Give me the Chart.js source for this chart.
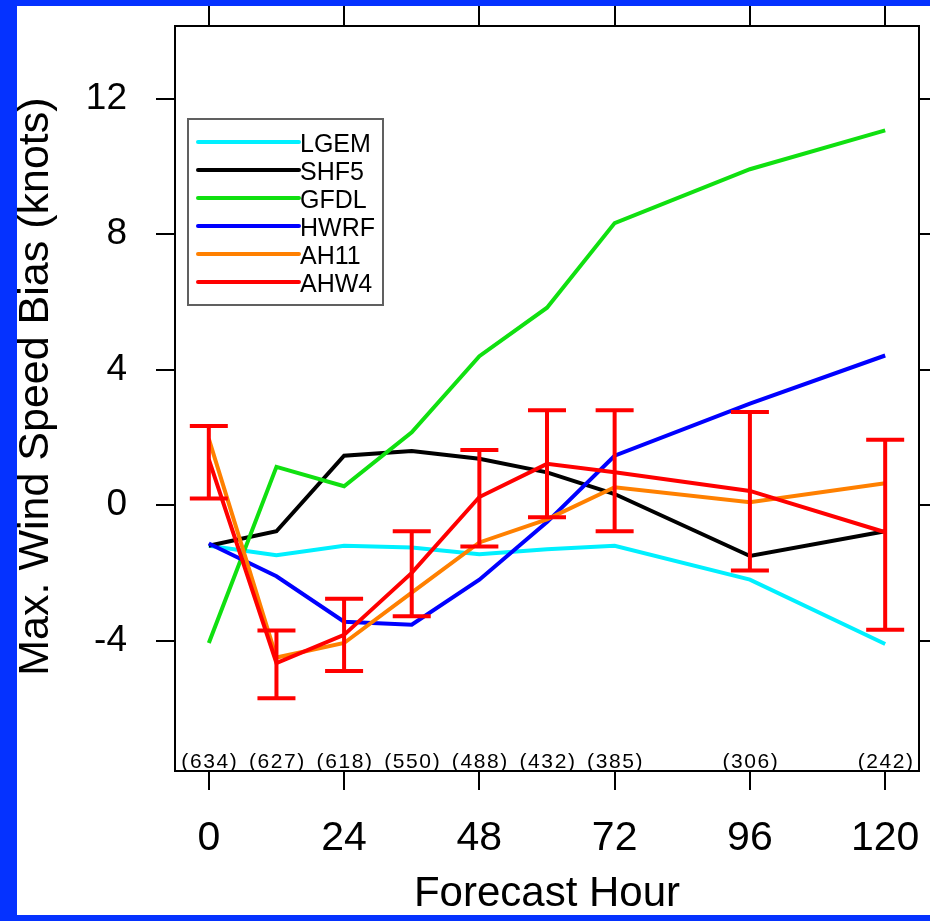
<!DOCTYPE html>
<html>
<head>
<meta charset="utf-8">
<script src="https://cdn.jsdelivr.net/npm/chart.js@4.4.1/dist/chart.umd.min.js"></script>
<style>
  html, body { margin: 0; padding: 0; background: #0532ff; }
  body { width: 930px; height: 921px; position: relative; overflow: hidden; }
  #frame { position: absolute; left: 17px; top: 6px; width: 913px; height: 909px; background: #fff; }
  canvas { display: block; }
</style>
</head>
<body>
<div id="frame"><canvas id="chart" width="913" height="909"></canvas></div>
<script>
// forecast hours and number of verifying cases
const hours = [0, 12, 24, 36, 48, 60, 72, 96, 120];
const caseCounts = [634, 627, 618, 550, 488, 432, 385, 306, 242];
const xTicks = [0, 24, 48, 72, 96, 120];
const yTicks = [-4, 0, 4, 8, 12];

// max wind speed bias (knots)
const lgem = [-1.2, -1.48, -1.2, -1.25, -1.45, -1.3, -1.2, -2.2, -4.1];
const shf5 = [-1.2, -0.77, 1.46, 1.6, 1.37, 0.97, 0.33, -1.5, -0.77];
const gfdl = [-4.07, 1.13, 0.56, 2.15, 4.4, 5.83, 8.33, 9.92, 11.07];
const hwrf = [-1.13, -2.1, -3.44, -3.53, -2.2, -0.5, 1.46, 3.0, 4.42];
const ah11 = [1.96, -4.5, -4.07, -2.58, -1.1, -0.42, 0.53, 0.09, 0.65];
const ahw4 = [1.35, -4.66, -3.83, -2.0, 0.24, 1.22, 0.97, 0.42, -0.8];
// AHW4 confidence interval
const ahw4Low = [0.2, -5.7, -4.9, -3.28, -1.22, -0.36, -0.77, -1.93, -3.68];
const ahw4High = [2.34, -3.7, -2.76, -0.77, 1.63, 2.8, 2.8, 2.75, 1.93];

const names = ['LGEM', 'SHF5', 'GFDL', 'HWRF', 'AH11', 'AHW4'];
const series = [lgem, shf5, gfdl, hwrf, ah11, ahw4];
const colors = ['#00f0ff', '#000000', '#10e010', '#0000ff', '#ff8000', '#ff0000'];

Chart.defaults.font.family = '"Liberation Sans", Arial, sans-serif';
Chart.defaults.color = '#000';

const errorBars = {
  id: 'errorBars',
  afterDatasetsDraw(chart) {
    const { ctx, scales: { x, y } } = chart;
    ctx.save();
    ctx.strokeStyle = '#ff0000';
    ctx.lineWidth = 4;
    hours.forEach((h, i) => {
      const px = x.getPixelForValue(h);
      const lo = y.getPixelForValue(ahw4Low[i]);
      const hi = y.getPixelForValue(ahw4High[i]);
      ctx.beginPath();
      ctx.moveTo(px, lo); ctx.lineTo(px, hi);
      ctx.moveTo(px - 19, lo); ctx.lineTo(px + 19, lo);
      ctx.moveTo(px - 19, hi); ctx.lineTo(px + 19, hi);
      ctx.stroke();
    });
    ctx.restore();
  }
};

const caseLabels = {
  id: 'caseLabels',
  afterDraw(chart) {
    const { ctx, chartArea, scales: { x } } = chart;
    ctx.save();
    ctx.font = '21px "Liberation Sans", Arial, sans-serif';
    if ('letterSpacing' in ctx) ctx.letterSpacing = '1.6px';
    ctx.fillStyle = '#000';
    ctx.textAlign = 'center';
    ctx.textBaseline = 'alphabetic';
    hours.forEach((h, i) => {
      ctx.fillText('(' + caseCounts[i] + ')', x.getPixelForValue(h) + 1, chartArea.bottom - 3);
    });
    ctx.restore();
  }
};

const boxLegend = {
  id: 'boxLegend',
  afterDraw(chart) {
    const { ctx, chartArea } = chart;
    const left = chartArea.left + 13, top = chartArea.top + 93;
    ctx.save();
    ctx.fillStyle = '#fff';
    ctx.fillRect(left, top, 195, 186);
    ctx.strokeStyle = '#606060';
    ctx.lineWidth = 2;
    ctx.strokeRect(left, top, 195, 186);
    ctx.font = '25px "Liberation Sans", Arial, sans-serif';
    ctx.textBaseline = 'alphabetic';
    chart.data.datasets.forEach((ds, i) => {
      const ly = top + 23 + i * 28;
      ctx.strokeStyle = ds.borderColor;
      ctx.lineWidth = 4;
      ctx.lineCap = 'round';
      ctx.beginPath();
      ctx.moveTo(left + 10, ly);
      ctx.lineTo(left + 111, ly);
      ctx.stroke();
      ctx.fillStyle = '#000';
      ctx.fillText(ds.label, left + 112, ly + 10);
    });
    ctx.restore();
  }
};

// fixed axis sizes so the plot box sits where the reference has it
const fixSize = (w, h) => s => {
  if (w !== null) s.width = w;
  if (h !== null) s.height = h;
  s.paddingTop = s.paddingBottom = s.paddingLeft = s.paddingRight = 0;
};

const gridStyle = { drawOnChartArea: false, drawTicks: true, tickLength: 19, color: '#000', lineWidth: 2 };
const borderStyle = { display: true, color: '#000', width: 2 };

new Chart(document.getElementById('chart'), {
  type: 'line',
  data: {
    datasets: names.map((name, i) => ({
      label: name,
      data: hours.map((h, j) => ({ x: h, y: series[i][j] })),
      borderColor: colors[i],
      backgroundColor: colors[i],
      borderWidth: 4,
      pointRadius: 0,
      tension: 0,
      order: names.length - i
    }))
  },
  options: {
    responsive: false,
    animation: false,
    layout: { padding: 0 },
    plugins: { legend: { display: false }, tooltip: { enabled: false } },
    scales: {
      x: {
        type: 'linear', position: 'bottom', min: -6, max: 126,
        afterBuildTicks: s => { s.ticks = xTicks.map(v => ({ value: v })); },
        afterFit: fixSize(null, 144),
        ticks: { font: { size: 41 }, color: '#000', padding: 24, maxRotation: 0, autoSkip: false },
        title: { display: true, text: 'Forecast Hour', color: '#000', font: { size: 42, lineHeight: 1 }, padding: 0 },
        grid: gridStyle, border: borderStyle
      },
      xTop: {
        type: 'linear', position: 'top', min: -6, max: 126,
        afterBuildTicks: s => { s.ticks = xTicks.map(v => ({ value: v })); },
        afterFit: fixSize(null, 20),
        ticks: { display: false },
        grid: { ...gridStyle, tickLength: 20 }, border: borderStyle
      },
      y: {
        type: 'linear', position: 'left', min: -7.85, max: 14.15,
        afterBuildTicks: s => { s.ticks = yTicks.map(v => ({ value: v })); },
        afterFit: fixSize(158, null),
        ticks: { font: { size: 37 }, color: '#000', padding: 29 },
        title: { display: true, text: '  Max. Wind Speed Bias (knots)', color: '#000', font: { size: 43, lineHeight: 0.9 }, padding: 0 },
        grid: gridStyle, border: borderStyle
      },
      yRight: {
        type: 'linear', position: 'right', min: -7.85, max: 14.15,
        afterBuildTicks: s => { s.ticks = yTicks.map(v => ({ value: v })); },
        afterFit: fixSize(11, null),
        ticks: { display: false },
        grid: gridStyle, border: borderStyle
      }
    }
  },
  plugins: [errorBars, caseLabels, boxLegend]
});
</script>
</body>
</html>
